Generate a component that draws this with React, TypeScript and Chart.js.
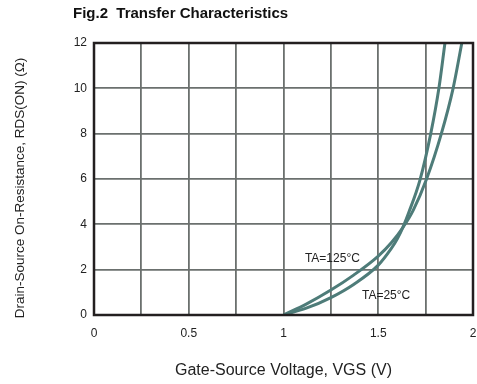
import React, { useEffect, useRef } from "react";
import { Chart, registerables } from "chart.js";

Chart.register(...registerables);

const TITLE = "Fig.2  Transfer Characteristics";
const X_TITLE = "Gate-Source Voltage, VGS (V)";
const Y_TITLE = "Drain-Source On-Resistance, RDS(ON) (Ω)";

const vgs125 = [1.0, 1.12, 1.25, 1.37, 1.5, 1.57, 1.63, 1.685, 1.755, 1.833, 1.895, 1.941];
const rds125 = [0, 0.48, 1.1, 1.76, 2.6, 3.2, 3.86, 4.63, 6, 8, 10, 12];

const vgs25 = [1.0, 1.12, 1.25, 1.37, 1.5, 1.57, 1.6, 1.63, 1.66, 1.72, 1.777, 1.82, 1.852];
const rds25 = [0, 0.3, 0.77, 1.35, 2.2, 2.95, 3.35, 3.87, 4.5, 5.95, 8, 10, 12];

const labels = [
  { text: "TA=125°C", x: 1.113, y: 2.5 },
  { text: "TA=25°C", x: 1.414, y: 0.84 },
];

const X_MIN = 0, X_MAX = 2, X_STEP = 0.25;
const Y_MIN = 0, Y_MAX = 12, Y_STEP = 2;

const CURVE = "#4e7c79";
const GRID = "#6b706e";
const FONT = "'Liberation Sans', Arial, sans-serif";

const overlayPlugin = {
  id: "overlay",
  afterDraw(chart: any) {
    const { ctx, chartArea, scales } = chart;
    ctx.save();
    ctx.strokeStyle = "#231f20";
    ctx.lineWidth = 2.5;
    ctx.strokeRect(chartArea.left, chartArea.top, chartArea.right - chartArea.left, chartArea.bottom - chartArea.top);
    ctx.fillStyle = "#111";
    ctx.font = `bold 15px ${FONT}`;
    ctx.textAlign = "left";
    ctx.textBaseline = "middle";
    ctx.fillText(TITLE, 73, 14);
    ctx.font = `12px ${FONT}`;
    ctx.fillStyle = "#222";
    for (const l of labels) {
      ctx.fillText(l.text, scales.x.getPixelForValue(l.x), scales.y.getPixelForValue(l.y));
    }
    // y axis title
    ctx.translate(20, 188);
    ctx.rotate(-Math.PI / 2);
    ctx.textAlign = "center";
    ctx.font = `13.5px ${FONT}`;
    ctx.fillText(Y_TITLE, 0, 0);
    ctx.restore();
  },
};

export default function App() {
  const ref = useRef<HTMLCanvasElement | null>(null);
  useEffect(() => {
    document.body.style.margin = "0";
    const canvas = ref.current!;
    const chart = new Chart(canvas, {
      type: "scatter",
      data: {
        datasets: [
          {
            label: "TA=125°C",
            data: vgs125.map((v, i) => ({ x: v, y: rds125[i] })),
            showLine: true,
            borderColor: CURVE,
            borderWidth: 3,
            pointRadius: 0,
            cubicInterpolationMode: "monotone",
          },
          {
            label: "TA=25°C",
            data: vgs25.map((v, i) => ({ x: v, y: rds25[i] })),
            showLine: true,
            borderColor: CURVE,
            borderWidth: 3,
            pointRadius: 0,
            cubicInterpolationMode: "monotone",
          },
        ],
      },
      options: {
        animation: false,
        responsive: false,
        layout: { padding: { top: 43, right: 4, left: 0, bottom: 0 } },
        plugins: { legend: { display: false }, tooltip: { enabled: false } },
        scales: {
          x: {
            type: "linear",
            min: X_MIN,
            max: X_MAX,
            afterFit: (s: any) => { s.height = 69; s.paddingLeft = 0; s.paddingRight = 0; },
            ticks: {
              stepSize: X_STEP,
              autoSkip: false,
              maxRotation: 0,
              padding: 11,
              color: "#222",
              font: { family: FONT, size: 12 },
              callback: (v: any) => (Math.abs((v as number) * 2 - Math.round((v as number) * 2)) < 1e-6 ? String(v) : ""),
            },
            grid: { color: GRID, lineWidth: 1.8, drawTicks: false },
            border: { display: false },
            title: {
              display: true,
              text: X_TITLE,
              color: "#222",
              font: { family: FONT, size: 16 },
              padding: { top: 0, bottom: 4 },
            },
          },
          y: {
            type: "linear",
            min: Y_MIN,
            max: Y_MAX,
            afterFit: (s: any) => { s.width = 94; s.paddingTop = 0; s.paddingBottom = 0; },
            ticks: {
              stepSize: Y_STEP,
              padding: 7,
              color: "#222",
              font: { family: FONT, size: 12 },
            },
            grid: { color: GRID, lineWidth: 1.8, drawTicks: false },
            border: { display: false },
            title: { display: false },
          },
        },
      },
      plugins: [overlayPlugin],
    } as any);
    return () => chart.destroy();
  }, []);
  return (
    <div style={{ width: 477, height: 384, background: "#fff" }}>
      <canvas ref={ref} width={477} height={384} />
    </div>
  );
}
